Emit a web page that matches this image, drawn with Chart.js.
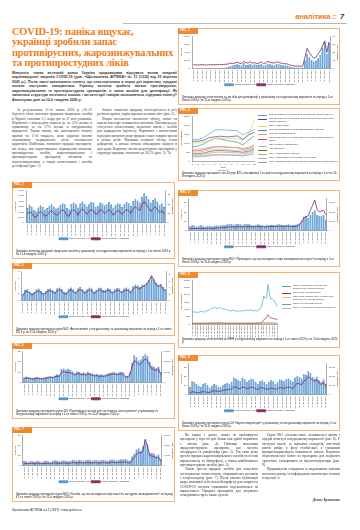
<!DOCTYPE html>
<html><head><meta charset="utf-8">
<script src="https://cdn.jsdelivr.net/npm/chart.js@4.4.1/dist/chart.umd.min.js"></script>
<style>
html,body{margin:0;padding:0;background:#fff;}
body{width:360px;height:530px;overflow:hidden;position:relative;font-family:"Liberation Serif",serif;}
.a{position:absolute;}
.box{position:absolute;border:1px solid #f5b37c;box-sizing:border-box;}
.tag{position:absolute;left:-1px;top:-1px;width:20px;height:5.5px;background:#ef8a2e;color:#fff;font:bold 3px/5.5px "Liberation Sans",sans-serif;padding-left:2px;box-sizing:border-box;}
.cw{position:absolute;}
.cap{position:absolute;font:2.8px/3.4px "Liberation Sans",sans-serif;color:#222;}
.txt{position:absolute;font:3.45px/4.3px "Liberation Serif",serif;color:#333;text-align:justify;text-indent:5px;}
.txt p{margin:0;}
.lead{position:absolute;font:bold 3.5px/4.45px "Liberation Sans",sans-serif;color:#333;text-align:justify;}
.lg{position:absolute;font:2.5px/2.9px "Liberation Sans",sans-serif;color:#333;}
.lg div{position:relative;padding-left:11px;margin-bottom:1.2px;}
.lg span{position:absolute;left:0;top:1.2px;width:9px;height:0.8px;}
</style></head>
<body>
<div class="a" style="left:123px;top:23px;width:224px;height:1px;background:#b9b9b9"></div>
<div class="a" style="left:200px;top:12px;width:137px;text-align:right;font:bold 7.5px 'Liberation Sans',sans-serif;color:#ef7d1a;letter-spacing:-0.1px">аналітика ::</div>
<div class="a" style="left:340px;top:12px;font:italic bold 7.5px 'Liberation Sans',sans-serif;color:#333">7</div>

<div class="a" style="left:12px;top:27px;width:175px;font:bold 10.4px/10.4px 'Liberation Serif',serif;color:#ef7d1a;letter-spacing:-0.15px">COVID-19: паніка вщухає,<br>українці зробили запас<br>противірусних, жарознижувальних<br>та протипростудних ліків</div>

<div class="lead" style="left:12px;top:71px;width:165px">Минулого тижня аптечний ринок України продовжував відчувати вплив пандемії коронавірусної хвороби COVID-19 (див. «Щотижневик АПТЕКА» № 11 (1332) від 23 березня 2020 р.). Після хвилі ажіотажного попиту, що спостерігалася в перші дні карантину, продажі почали поступово знижуватися. Українці встигли зробити запаси противірусних, жарознижувальних та протипростудних препаратів, а також засобів для дезінфекції. Як змінилася структура аптечного кошика і які категорії товарів залишаються лідерами попиту? Аналізуємо дані за 12-й тиждень 2020 р.</div>

<div class="txt" style="left:12px;top:108px;width:80px"><p>За результатами 12-го тижня 2020 р. (16–22 березня) обсяг аптечних продажів лікарських засобів в Україні становив 2,1 млрд грн за 37 млн упаковок. Порівняно з попереднім тижнем це на 21% менше в грошовому та на 27% менше в натуральному вираженні. Таким чином, пік ажіотажного попиту припав на 11-й тиждень, коли українці масово скуповували медикаменти після оголошення карантину. Найбільше знизилися продажі препаратів, які перед тим користувалися підвищеним попитом: противірусних засобів, жарознижувальних і протипростудних препаратів, вітамінів та імуностимуляторів, а також антисептиків і засобів дезінфекції (рис. 1).</p></div>
<div class="txt" style="left:97px;top:108px;width:80px"><p>Значне зниження продажу спостерігалося в усіх регіонах країни, окрім окремих великих міст (рис. 2).</p><p>Попри зменшення загального обсягу, попит на окремі категорії залишається високим. Насамперед це стосується антисептиків, медичних масок і засобів для підвищення імунітету. Порівняно з аналогічним періодом минулого року продажі таких товарів зросли в кілька разів. Упаковки великого об'єму стали дефіцитом, а аптеки почали обмежувати відпуск в одні руки. Водночас частка рецептурних препаратів у структурі продажу знизилася до 28,5% (рис. 3). Та</p></div>

<!-- LEFT BOXES -->
<div class="box" style="left:12px;top:182px;width:163px;height:77px"><div class="tag">РИС. 1</div>
 <div class="cw" style="left:1px;top:5px;width:160px;height:62px"><canvas id="c1"></canvas></div>
 <div class="cap" style="left:3px;top:67px;width:157px">Динаміка аптечних продажів лікарських засобів у грошовому та натуральному вираженні за період з 1-го тижня 2019 р. по 11-й тиждень 2020 р.</div></div>

<div class="box" style="left:12px;top:263px;width:163px;height:73px"><div class="tag">РИС. 3</div>
 <div class="cw" style="left:1px;top:5px;width:160px;height:59px"><canvas id="c3"></canvas></div>
 <div class="cap" style="left:3px;top:64px;width:157px">Динаміка продажу препаратів групи N02 «Анальгетики» у натуральному та грошовому вираженні за період з 1-го тижня 2019 р. по 11-й тиждень 2020 р.</div></div>

<div class="box" style="left:12px;top:343px;width:163px;height:76px"><div class="tag">РИС. 5</div>
 <div class="cw" style="left:1px;top:5px;width:160px;height:61px"><canvas id="c5"></canvas></div>
 <div class="cap" style="left:3px;top:66px;width:157px">Динаміка продажу препаратів групи J05 «Противірусні засоби для системного застосування» у грошовому та натуральному вираженні за період з 1-го тижня 2019 р. по 11-й тиждень 2020 р.</div></div>

<div class="box" style="left:12px;top:427px;width:163px;height:75px"><div class="tag">РИС. 7</div>
 <div class="cw" style="left:1px;top:5px;width:160px;height:60px"><canvas id="c7"></canvas></div>
 <div class="cap" style="left:3px;top:65px;width:157px">Динаміка продажу препаратів групи R05 «Засоби, що застосовуються при кашлі та застудних захворюваннях» за період з 1-го тижня 2019 р. по 11-й тиждень 2020 р.</div></div>

<div class="a" style="left:12px;top:508px;font:3px 'Liberation Sans',sans-serif;color:#333">Щотижневик АПТЕКА №12 (1333) • www.apteka.ua</div>

<!-- RIGHT BOXES -->
<div class="box" style="left:178px;top:28px;width:162px;height:77px"><div class="tag">РИС. 2</div>
 <div class="cw" style="left:1px;top:5px;width:159px;height:62px"><canvas id="c2"></canvas></div>
 <div class="cap" style="left:3px;top:67px;width:156px">Динаміка продажу антисептиків та засобів для дезінфекції у грошовому та натуральному вираженні за період з 1-го тижня 2019 р. по 11-й тиждень 2020 р.</div></div>

<div class="box" style="left:178px;top:108px;width:162px;height:73px"><div class="tag">РИС. 4</div>
 <div class="cw" style="left:1px;top:5px;width:76px;height:58px"><canvas id="c4"></canvas></div>
 <div class="lg" id="lg4" style="left:79px;top:5px;width:80px"></div>
 <div class="cap" style="left:3px;top:63px;width:156px">Динаміка продажу препаратів топ-10 груп АТС-класифікації 2-го рівня в натуральному вираженні за період з 1-го по 12-й тиждень 2020 р.</div></div>

<div class="box" style="left:178px;top:190px;width:162px;height:77px"><div class="tag">РИС. 6</div>
 <div class="cw" style="left:1px;top:5px;width:159px;height:62px"><canvas id="c6"></canvas></div>
 <div class="cap" style="left:3px;top:67px;width:156px">Динаміка продажу препаратів групи R02 «Препарати, що застосовуються при захворюваннях горла» за період з 1-го тижня 2019 р. по 11-й тиждень 2020 р.</div></div>

<div class="box" style="left:178px;top:272px;width:162px;height:76px"><div class="tag">РИС. 8</div>
 <div class="cw" style="left:1px;top:5px;width:100px;height:60px"><canvas id="c8"></canvas></div>
 <div class="lg" id="lg8" style="left:103px;top:12px;width:56px"></div>
 <div class="cap" style="left:3px;top:65px;width:156px">Динаміка продажу антисептиків за МНН у натуральному вираженні за період з 1-го тижня 2019 р. по 11-й тиждень 2020 р.</div></div>

<div class="box" style="left:178px;top:355px;width:162px;height:76px"><div class="tag">РИС. 9</div>
 <div class="cw" style="left:1px;top:5px;width:159px;height:61px"><canvas id="c9"></canvas></div>
 <div class="cap" style="left:3px;top:66px;width:156px">Динаміка продажу препаратів групи L03 «Імуностимулятори» у грошовому та натуральному вираженні за період з 1-го тижня 2019 р. по 11-й тиждень 2020 р.</div></div>

<div class="txt" style="left:180px;top:433px;width:78px"><p>Як видно з даних, попит на противірусні препарати у березні зріс більш ніж удвічі порівняно з лютим (рис. 4). Найвищі показники продемонстрували препарати, що містять інтерферон та умифеновір (рис. 5). Так само різко зросли продажі жарознижувальних засобів на основі парацетамолу та ібупрофену, а також комбінованих протипростудних засобів (рис. 6).</p><p>Також зросли продажі засобів для місцевого застосування: антисептиків, спиртовмісних розчинів і хлоргексидину (рис. 7). Після кількох публікацій щодо можливої небезпеки ібупрофену для хворих на COVID-19 частина споживачів переключилася на парацетамол. Продажі препаратів для лікування захворювань горла також зросли.</p></div>
<div class="txt" style="left:262px;top:433px;width:78px"><p>Група N02 «Анальгетики» залишається одним з лідерів попиту в натуральному вираженні (рис. 8). У наступні тижні, за оцінками експертів, аптечний ринок увійде у фазу стабілізації, а споживачі використовуватимуть накопичені запаси. Водночас зберігатиметься попит на препарати для лікування хронічних захворювань та імуностимулятори (рис. 9).</p><p>Продовжуємо слідкувати за подальшими змінами аптечного ринку та інформувати читачів про основні тенденції. <span style="color:#ef7d1a">■</span></p></div>
<div class="a" style="left:262px;top:498px;width:78px;text-align:right;font:italic bold 3.6px 'Liberation Serif',serif;color:#333">Денис Кравченко</div>

<script>
const weeks = ['1 тиж. 2019','2 тиж. 2019','3 тиж. 2019','4 тиж. 2019','5 тиж. 2019','6 тиж. 2019','7 тиж. 2019','8 тиж. 2019','9 тиж. 2019','10 тиж. 2019','11 тиж. 2019','12 тиж. 2019','13 тиж. 2019','14 тиж. 2019','15 тиж. 2019','16 тиж. 2019','17 тиж. 2019','18 тиж. 2019','19 тиж. 2019','20 тиж. 2019','21 тиж. 2019','22 тиж. 2019','23 тиж. 2019','24 тиж. 2019','25 тиж. 2019','26 тиж. 2019','27 тиж. 2019','28 тиж. 2019','29 тиж. 2019','30 тиж. 2019','31 тиж. 2019','32 тиж. 2019','33 тиж. 2019','34 тиж. 2019','35 тиж. 2019','36 тиж. 2019','37 тиж. 2019','38 тиж. 2019','39 тиж. 2019','40 тиж. 2019','41 тиж. 2019','42 тиж. 2019','43 тиж. 2019','44 тиж. 2019','45 тиж. 2019','46 тиж. 2019','47 тиж. 2019','48 тиж. 2019','49 тиж. 2019','50 тиж. 2019','51 тиж. 2019','52 тиж. 2019','1 тиж. 2020','2 тиж. 2020','3 тиж. 2020','4 тиж. 2020','5 тиж. 2020','6 тиж. 2020','7 тиж. 2020','8 тиж. 2020','9 тиж. 2020','10 тиж. 2020','11 тиж. 2020'];
const weeks2020 = ['1','2','3','4','5','6','7','8','9','10','11','12'];

// Рис. 1
const fig1Money = [2700,3300,3000,2400,2100,2800,3200,2900,2400, 2700,3100,3400,3000,2600,2800,3300,3600,3400, 2700,2500,3500,3700,3400,2800,3600,3900,3500, 3000,3400,3800,3700,2900,3100,3700,3600,3200, 3400,3800,3400,2800,3300,3600,3400,2900,3500, 3800,3600,3100,4000,4400,4100,3700,4700,5400, 4900,4300,3700,4200,4500,3900,3300,3600,2900];
const fig1Units = [9,12,10,7,6,10,12,10,7, 8,11,13,11,8,9,12,14,12, 8,7,13,14,12,8,13,15,12, 9,12,14,13,9,10,14,13,10, 12,14,12,8,11,13,12,9,12, 14,13,10,15,17,15,13,19,23, 19,16,12,15,17,14,11,13,9];
// Рис. 2
const fig2Money = [80,90,70,80,90,100,80,90,100, 90,110,100,120,130,150,300,500,700, 900,1000,1100,950,900,1400,1000,950,1200, 1000,1100,950,1000,1200,900,1000,1300,1100, 1000,900,1200,1100,1000,900,800,900,600, 400,300,350,300,250,300,2000,3600,2800, 2200,1800,2000,2600,3400,5200,6600,3700,6300];
const fig2Units = [5,5,4.5,5,5,5,4.5,5,5, 5,5,5,5.5,5,5.5,5.5,6,7, 6.5,7,8,7,6.5,9,7.5,7,8.5, 7,7.5,6.5,7,8.5,6.5,7,9,8, 7.5,7,8.5,8,7,6.5,6,6,5, 4,3.5,3.5,3.5,3,3.5,14,25,20, 16,13,14,18,22,28,34,20,33];
// Рис. 3
const fig3Money = [1.8,2.9,3.2,2.6,2.0,2.4,3.1,3.3,2.7, 2.1,2.7,3.2,3.4,2.9,2.5,3.4,3.6,3.2, 2.4,2.3,3.3,3.6,3.1,2.5,3.4,3.7,3.2, 2.6,3.1,3.6,3.4,2.5,2.9,3.6,3.5,2.9, 3.0,3.5,3.2,2.6,3.1,3.5,3.4,2.7,3.3, 3.6,3.3,2.7,3.9,4.4,4.2,3.7,4.3,4.4, 4.8,5.6,6.6,5.8,4.8,4.4,4.6,3.8,3.2];
const fig3Units = [1.6,2.6,2.9,2.3,1.8,2.1,2.8,3.0,2.4, 1.9,2.4,2.9,3.1,2.6,2.2,3.1,3.3,2.9, 2.1,2.0,3.0,3.3,2.8,2.2,3.1,3.4,2.9, 2.3,2.8,3.3,3.1,2.2,2.6,3.3,3.2,2.6, 2.7,3.2,2.9,2.3,2.8,3.2,3.1,2.4,3.0, 3.3,3.0,2.4,3.6,4.1,3.9,3.4,4.2,4.5, 5.2,6.3,7.6,6.2,4.9,4.3,4.7,3.6,3.0];
// Рис. 5
const fig5Money = [5,6,5.5,5,4.5,5,5.5,5,4.5, 5,5.5,6,6.5,6,7,8,7.5,13, 13.5,12.5,13,12,11,9,11,10.5,9.5, 10,9,10.5,9.5,9,8,8.5,7.5,8, 7.5,8,9,9.5,10,10.5,9.5,10,10.5, 10,7,6.5,10,19,26,24,21,22, 25,27,25.5,20,16,15,14,15.5,10];
const fig5Units = [400,460,430,400,360,400,440,400,360, 400,440,480,520,480,560,640,600,1000, 1050,980,1000,950,880,720,880,840,760, 800,720,840,760,720,640,680,600,640, 600,640,720,760,800,840,760,800,840, 800,560,520,800,1500,2100,1950,1700,1800, 2050,2250,2100,1650,1300,1250,1150,1300,800];
// Рис. 7
const fig7Money = [5,4.5,4,5,4.5,4,5,4.5,4, 4.5,5,4.5,4,5,5.5,5,4.5,5, 5.5,5,4.5,5,6,5.5,5,6,5.5, 5,5.5,6,5.5,5,6,5.5,5,5.5, 6,5.5,5,6,6.5,6,5.5,6,6.5, 6.5,7,6,5,9,12,16,17,15, 19,25,21,13,12.5,12,10,11,7];
const fig7Units = [250,220,200,260,230,200,260,230,200, 230,260,230,200,260,290,260,230,260, 290,260,230,260,320,290,260,320,290, 260,290,320,290,260,320,290,260,290, 320,290,260,320,350,320,290,320,350, 350,380,320,260,520,800,1100,1300,1200, 1500,2600,1900,1000,950,900,750,850,450];
// Рис. 6
const fig6Money = [5,6,6,4.5,5.5,6,5,4.5,5.5, 5.5,5,5,6,5.5,6,6.5,6,7, 7.5,7.5,6.5,7,7.5,7,6.5,7.5,7, 7,6.5,6,6.5,7,6.5,6,5.5,6.5, 6,6.5,6.5,6,7,7,6.5,6,6.5, 7,6,6.5,6.5,7,8,11,15,16, 14,17,20,22,17,16,16,17,12];
const fig6Units = [250,260,250,240,260,260,250,250,260, 270,260,280,300,320,330,340,350,380, 420,430,400,420,440,430,420,450,440, 440,430,420,440,460,440,430,420,440, 450,460,470,460,480,490,470,480,490, 500,450,460,470,500,650,900,1400,1500, 1600,2200,2700,3300,2300,2000,2100,2200,1700];
// Рис. 9
const fig9Money = [9,15,14,12,10,9,12,13,11, 8,10,12,11,9,9,11,12,13, 12,14,19,18,16,15,19,17,14, 16,18,17,14,12,15,16,14,12, 14,16,15,12,14,17,16,15,17, 18,16,14,19,21,20,18,23,22, 26,24,20,18,20,16,14,17,12];
const fig9Units = [200,350,300,250,220,300,350,320,280, 250,400,450,420,380,400,500,520,600, 550,650,900,850,700,680,900,800,700, 750,850,800,650,600,750,800,700,600, 650,750,700,600,680,800,780,700,800, 850,800,700,1000,1300,1200,1100,1500,1700, 2000,1800,1600,1500,1650,1300,1100,1400,900];

// Рис. 4 (12 weeks 2020, top-10 ATC groups)
const fig4Names = ['J05 Противірусні засоби для системного застосування','R05 Засоби, що застосовуються при кашлі та застудних захворюваннях','N02 Анальгетики','M01 Протизапальні та протиревматичні засоби','L03 Імуностимулятори','R02 Препарати, що застосовуються при захворюваннях горла','R01 Назальні препарати','A11 Вітаміни','R06 Антигістамінні засоби','D08 Антисептики та дезінфікуючі засоби','J01 Антибактеріальні засоби для системного застосування'];
const fig4Values = [
 [1200,1200,1300,1500,1700,1750,1720,1700,1690,1450,1600,1750],
 [1100,1100,1150,1300,1350,1380,1350,1360,1400,1200,1450,1600],
 [1000,1000,1050,1150,1250,1280,1250,1260,1250,1150,1500,2300],
 [800,820,950,1120,1260,1230,1150,1100,1050,900,1150,1400],
 [650,660,700,760,800,800,780,760,750,700,780,900],
 [560,580,620,700,780,800,780,750,740,650,700,820],
 [480,500,540,600,660,660,630,610,600,560,640,720],
 [400,420,450,520,580,590,570,550,530,490,560,660],
 [330,350,380,430,480,500,480,470,460,420,500,580],
 [280,290,300,330,360,370,360,350,340,320,420,520],
 [230,240,260,300,330,340,330,320,310,290,340,400]];
const fig4Colors = ['#4bacc6','#7030a0','#d6dc5a','#2e9b8f','#f0a040','#c0509a','#a6bedd','#a0522d','#8fbf5a','#b3a2c7','#9a9a9a'];

// Рис. 8 (antiseptics by INN)
const fig8Names = ['D08AX08 Етанол (розчин для зовнішнього застосування)','D08AC02 Хлоргексидин','D08AG02 Повідон-йод (розчин для зовнішнього застосування)','D08AX01 Перекис водню','D08AJ Четвертинні амонієві сполуки'];
const fig8Values = [
 [900,800,850,780,820,800,850,880,800, 850,900,880,950,1000,1100,1050,1150,1100, 1050,1100,1120,1080,1000,1050,1000,980,950, 900,880,920,950,900,880,850,900,880, 900,920,880,950,900,920,980,950,900, 920,900,880,950,1000,1100,1500,1900,1750, 1800,2700,2100,1700,1750,1650,1500,1300,1200],
 [60,55,60,50,55,60,55,60,55, 60,65,60,65,70,75,70,75,70, 70,75,80,75,70,70,65,65,60, 60,60,65,65,60,60,55,60,60, 60,65,60,65,60,65,70,65,60, 65,60,60,65,70,80,150,300,350, 450,630,520,420,400,380,350,320,300],
 [40,35,40,35,40,40,35,40,35, 40,40,35,40,45,45,40,45,40, 40,45,45,40,40,40,35,35,35, 35,35,40,40,35,35,35,35,35, 35,40,35,40,35,40,40,40,35, 40,35,35,40,45,50,80,110,100, 100,130,110,90,90,85,80,75,70],
 [30,25,30,25,30,30,25,30,25, 30,30,25,30,35,35,30,35,30, 30,35,35,30,30,30,25,25,25, 25,25,30,30,25,25,25,25,25, 25,30,25,30,25,30,30,30,25, 30,25,25,30,35,40,60,80,70, 70,90,80,70,65,60,55,55,50],
 [10,10,10,10,10,10,10,10,10, 10,10,10,10,12,12,12,12,12, 12,12,12,12,12,12,12,12,12, 12,12,12,12,12,12,12,12,12, 12,12,12,12,12,12,12,12,12, 12,12,12,12,14,16,20,28,30, 34,40,36,32,30,28,26,25,24]];
const fig8Colors = ['#4aa0c8','#9e2a5a','#f2c45a','#5cae5c','#d9a0d0'];

const FONT = "'Liberation Sans', Arial, sans-serif";
Chart.defaults.font.family = FONT;
Chart.defaults.font.size = 2.5;
Chart.defaults.font.lineHeight = 1;
Chart.defaults.color = '#333';
Chart.defaults.animation = false;

function axis(pos, max, step, title) {
  return {position: pos, min: 0, max: max, grid: {display: false, drawTicks: true, tickLength: 1.5, color:'#888'},
    border: {color: '#777', width: 0.6},
    ticks: {stepSize: step, padding: 0.8, font: {size: 2.4}},
    title: {display: !!title, text: title, font: {size: 2.5}, padding: 0.3}};
}
function xWeeks(skip) {
  return {grid: {display: false, tickLength: 1.2}, border: {color: '#777', width: 0.6},
    ticks: {autoSkip: false, maxRotation: 90, minRotation: 90, padding: 0.3, font: {size: 2.1},
      callback: function(v, i) { return i % skip === 0 ? this.getLabelForValue(v) : ''; }}};
}
function barLine(id, money, units, yMax, yStep, y1Max, y1Step, yT, y1T) {
  new Chart(document.getElementById(id), {
    type: 'bar',
    data: {labels: weeks, datasets: [
      {type: 'line', label: 'Обсяг продажу, упаковки', data: units, yAxisID: 'y1', borderColor: '#7d2a66', backgroundColor: '#7d2a66', borderWidth: 0.8, pointRadius: 0, tension: 0},
      {type: 'bar', label: 'Обсяг продажу, грн', data: money, yAxisID: 'y', backgroundColor: '#57a0dc', borderColor: '#1f5d9e', borderWidth: 0.45, barPercentage: 0.86, categoryPercentage: 1}
    ]},
    options: {responsive: true, maintainAspectRatio: false, animation: false,
      layout: {padding: {left: 0, right: 0, top: 0.5, bottom: 0}},
      plugins: {tooltip: {enabled: false},
        legend: {position: 'bottom', labels: {boxWidth: 9, boxHeight: 2, padding: 0.8, font: {size: 2.4},
          sort: (a, b) => b.datasetIndex - a.datasetIndex}}},
      scales: {x: xWeeks(2), y: axis('left', yMax, yStep, yT), y1: axis('right', y1Max, y1Step, y1T)}}
  });
}
barLine('c1', fig1Money, fig1Units, 6000, 1000, 35, 5, 'Млн грн', 'Млн упаковок');
barLine('c2', fig2Money, fig2Units, 8000, 1000, 40, 5, 'Тис. грн', 'Тис. упаковок');
barLine('c3', fig3Money, fig3Units, 8, 1, 9, 1, 'Млн грн', 'Млн упаковок');
barLine('c5', fig5Money, fig5Units, 30, 5, 3000, 500, 'Млн грн', 'Тис. упаковок');
barLine('c7', fig7Money, fig7Units, 30, 5, 3000, 500, 'Млн грн', 'Тис. упаковок');
barLine('c6', fig6Money, fig6Units, 35, 5, 3500, 500, 'Млн грн', 'Тис. упаковок');
barLine('c9', fig9Money, fig9Units, 35, 5, 3500, 500, 'Млн грн', 'Тис. упаковок');

function multiLine(id, labels, names, values, colors, yMax, yStep, yT, xOpts, lgId) {
  new Chart(document.getElementById(id), {
    type: 'line',
    data: {labels: labels, datasets: values.map((v, i) => ({label: names[i], data: v, borderColor: colors[i], backgroundColor: colors[i], borderWidth: 0.7, pointRadius: 0, tension: 0}))},
    options: {responsive: true, maintainAspectRatio: false, animation: false,
      layout: {padding: {top: 1, right: 1}},
      plugins: {legend: {display: false}, tooltip: {enabled: false}},
      scales: {x: xOpts, y: axis('left', yMax, yStep, yT)}}
  });
  const lg = document.getElementById(lgId);
  names.forEach((n, i) => {
    const d = document.createElement('div');
    d.innerHTML = '<span style="background:' + colors[i] + '"></span>' + n;
    lg.appendChild(d);
  });
}
multiLine('c4', weeks2020, fig4Names, fig4Values, fig4Colors, 2500, 500, 'Тис. упаковок',
  {grid: {display: false, tickLength: 1.5}, border: {color: '#777', width: 0.6}, ticks: {padding: 0.5, font: {size: 2.4}, maxRotation: 0},
   title: {display: true, text: ['2020', 'Тиждень'], font: {size: 2.5}, padding: 0.5}}, 'lg4');
multiLine('c8', weeks, fig8Names, fig8Values, fig8Colors, 3000, 500, 'Тис. упаковок', xWeeks(2), 'lg8');
</script>
</body></html>
